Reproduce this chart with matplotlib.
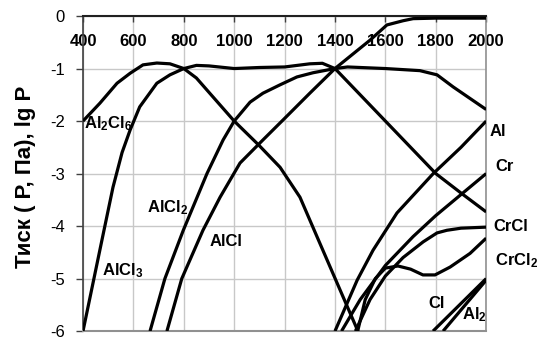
import matplotlib
matplotlib.use("Agg")
import matplotlib.pyplot as plt

plt.rcParams['font.family'] = 'Liberation Sans'
plt.rcParams['mathtext.fontset'] = 'custom'
plt.rcParams['mathtext.rm'] = 'Liberation Sans:bold'
plt.rcParams['mathtext.it'] = 'Liberation Sans:bold'
plt.rcParams['mathtext.bf'] = 'Liberation Sans:bold'

# temperature ticks (K) and lg P ticks
x_ticks = [400, 600, 800, 1000, 1200, 1400, 1600, 1800, 2000]
y_ticks = [0, -1, -2, -3, -4, -5, -6]
y_tick_labels = ["0", "-1", "-2", "-3", "-4", "-5", "-6"]

# curves: temperature, lg P
al2cl6_t = [400, 467, 535, 587, 638, 693, 745, 800, 850, 892, 1000, 1098, 1182, 1261, 1333, 1491]
al2cl6_p = [-2.0, -1.66, -1.28, -1.09, -0.93, -0.895, -0.91, -1.0, -1.18, -1.41, -2.0, -2.46, -2.88,
            -3.45, -4.25, -6.0]

alcl3_t = [400, 475, 519, 555, 587, 625, 693, 745, 800, 850, 900, 1000, 1100, 1200, 1300, 1350,
           1400, 1500, 1600, 1700, 1800, 1900, 2000]
alcl3_p = [-6.0, -4.27, -3.26, -2.6, -2.17, -1.73, -1.28, -1.12, -1.0, -0.94, -0.95, -1.0, -0.98, -0.97,
           -0.91, -0.9, -1.0, -1.5, -2.0, -2.5, -3.0, -3.37, -3.73]

alcl2_t = [666, 725, 798, 892, 956, 1000, 1063, 1114, 1182, 1249, 1313, 1400, 1450, 1600, 1737, 1805,
           1869, 1936, 2000]
alcl2_p = [-6.0, -5.0, -4.08, -3.0, -2.36, -2.0, -1.64, -1.47, -1.31, -1.16, -1.08, -1.0, -0.97, -1.0,
           -1.04, -1.12, -1.35, -1.57, -1.78]

alcl_t = [733, 792, 876, 944, 1023, 1114, 1200, 1300, 1400, 1539, 1606, 1670, 1710, 1800, 2000]
alcl_p = [-6.0, -5.0, -4.08, -3.45, -2.8, -2.36, -1.95, -1.47, -1.0, -0.46, -0.17, -0.09, -0.05, -0.04, -0.04]

al_t = [1400, 1488, 1551, 1646, 1790, 1900, 2000]
al_p = [-6.0, -5.03, -4.46, -3.75, -3.0, -2.5, -2.0]

cr_t = [1426, 1500, 1600, 1710, 1800, 1900, 2000]
cr_p = [-6.0, -5.4, -4.75, -4.2, -3.8, -3.4, -3.0]

crcl_t = [1481, 1539, 1600, 1670, 1750, 1805, 1844, 1900, 2000]
crcl_p = [-6.0, -5.4, -4.95, -4.6, -4.3, -4.13, -4.08, -4.04, -4.02]

crcl2_t = [1490, 1520, 1560, 1600, 1650, 1700, 1749, 1797, 1857, 1936, 2000]
crcl2_p = [-6.0, -5.4, -5.0, -4.8, -4.76, -4.82, -4.93, -4.93, -4.78, -4.52, -4.23]

cl_t = [1789, 2000]
cl_p = [-6.0, -5.0]

al2_t = [1829, 2000]
al2_p = [-6.0, -5.03]

# curve labels: text, temperature, lg P
labels = [
    (r"Al$_2$Cl$_6$", 403, -2.05),
    (r"AlCl$_3$", 475, -4.85),
    (r"AlCl$_2$", 654, -3.65),
    ("AlCl", 904, -4.3),
    ("Al", 2015, -2.2),
    ("Cr", 2035, -2.86),
    ("CrCl", 2027, -4.0),
    (r"CrCl$_2$", 2035, -4.65),
    ("Cl", 1769, -5.47),
    (r"Al$_2$", 1904, -5.68),
]

fig = plt.figure(figsize=(5.39, 3.41), dpi=100)
ax = fig.add_axes([0.154, 0.029, 0.748, 0.924])

series = [(al2cl6_t, al2cl6_p), (alcl3_t, alcl3_p), (alcl2_t, alcl2_p), (alcl_t, alcl_p),
          (al_t, al_p), (cr_t, cr_p), (crcl_t, crcl_p), (crcl2_t, crcl2_p), (cl_t, cl_p), (al2_t, al2_p)]
for t, p in series:
    ax.plot(t, p, color="black", lw=2.3, solid_capstyle="butt", zorder=3)

ax.set_xlim(400, 2000)
ax.set_ylim(-6, 0)

# x axis sits on the top (lg P = 0) with labels hanging inside the plot
ax.xaxis.tick_top()
ax.set_xticks(x_ticks, [str(v) for v in x_ticks], fontsize=12, fontweight="bold")
ax.tick_params(axis="x", direction="in", length=4, width=1, pad=-24, color="#404040")
ax.set_yticks(y_ticks, y_tick_labels, fontsize=12)
ax.tick_params(axis="y", direction="out", length=5, width=1, pad=8, color="#404040")

ax.grid(True, color="#c8c8c8", lw=1)
ax.set_axisbelow(True)

ax.spines["top"].set_color("#202020")
ax.spines["top"].set_linewidth(1.5)
ax.spines["left"].set_color("#404040")
ax.spines["left"].set_linewidth(1.2)
ax.spines["bottom"].set_color("#909090")
ax.spines["bottom"].set_linewidth(1.5)
ax.spines["right"].set_color("#909090")
ax.spines["right"].set_linewidth(1.2)

for text, t, p in labels:
    ax.text(t, p, text, fontsize=12, fontweight="bold", ha="left", va="center",
            clip_on=False, zorder=4)

ax.set_ylabel("Тиск ( P, Па), lg P", fontsize=16, fontweight="bold")
ax.yaxis.set_label_coords(-0.117, 0.49)

fig.savefig("out.png", dpi=100)
